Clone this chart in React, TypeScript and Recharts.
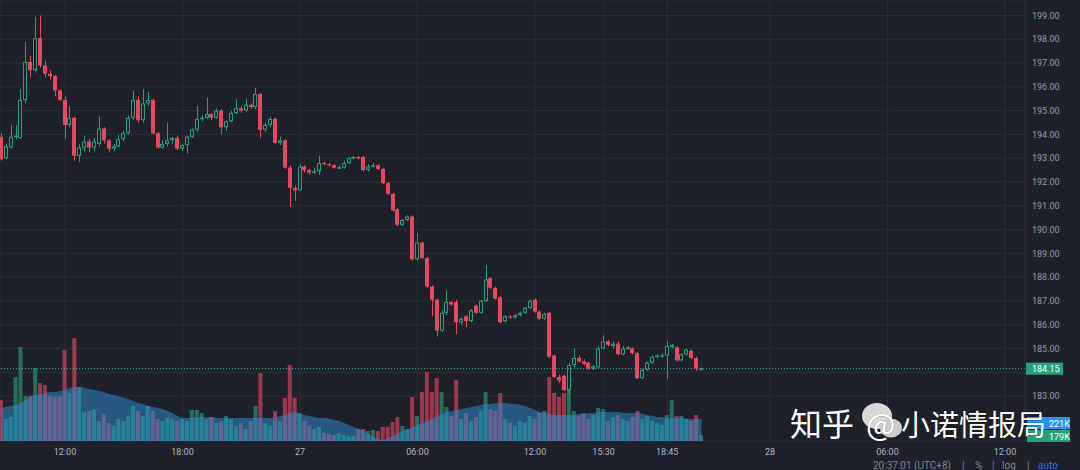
import React from 'react';
import { ComposedChart, Bar, Area, XAxis, YAxis, CartesianGrid, ReferenceLine } from 'recharts';

// time in hours since 00:00 of the 26th; 15-minute candles
const START_HOUR = 8.75;
const STEP_HOURS = 0.25;

// [open, high, low, close]
const CANDLES: [number, number, number, number][] = [
  [193.9, 194.05, 192.9, 192.95], [193.0, 193.6, 192.95, 193.5], [193.45, 194.4, 193.4, 193.9], [193.9, 194.4, 193.8, 193.95],
  [193.85, 195.9, 193.8, 195.45], [195.45, 197.9, 195.3, 197.05], [197.05, 197.3, 196.4, 196.7], [196.7, 198.95, 196.6, 198.05],
  [198.05, 199.0, 196.8, 196.9], [196.9, 197.1, 196.4, 196.55], [196.55, 196.7, 196.3, 196.45], [196.45, 196.5, 195.6, 195.85],
  [195.85, 195.9, 195.4, 195.45], [195.45, 195.6, 193.8, 194.4], [194.4, 195.2, 194.3, 194.7], [194.7, 194.75, 192.9, 193.1],
  [193.1, 193.6, 192.85, 193.45], [193.45, 193.95, 193.3, 193.7], [193.7, 193.8, 193.25, 193.45], [193.45, 193.85, 193.3, 193.7],
  [193.6, 194.75, 193.5, 194.25], [194.25, 194.3, 193.6, 193.75], [193.75, 193.8, 193.25, 193.4], [193.4, 193.6, 193.3, 193.5],
  [193.5, 194.0, 193.45, 193.8], [193.8, 194.15, 193.7, 194.05], [194.05, 194.8, 194.0, 194.7], [194.7, 195.85, 194.6, 195.45],
  [195.45, 195.6, 194.5, 194.6], [194.6, 195.9, 194.5, 195.3], [195.3, 195.8, 195.2, 195.45], [195.45, 195.5, 194.0, 194.05],
  [194.05, 194.1, 193.4, 193.45], [193.45, 193.75, 193.4, 193.6], [193.6, 194.5, 193.5, 193.75], [193.75, 193.9, 193.6, 193.85],
  [193.85, 193.95, 193.35, 193.4], [193.4, 193.6, 193.3, 193.55], [193.55, 193.95, 193.2, 193.9], [193.9, 194.25, 193.85, 194.2],
  [194.2, 195.2, 194.1, 194.65], [194.65, 194.8, 194.55, 194.7], [194.7, 195.55, 194.65, 194.85], [194.85, 194.9, 194.6, 194.7],
  [194.7, 195.1, 194.65, 195.0], [195.0, 195.05, 194.0, 194.3], [194.3, 194.6, 194.15, 194.55], [194.55, 195.0, 194.5, 194.9],
  [194.9, 195.5, 194.85, 195.1], [195.1, 195.2, 194.9, 195.0], [195.0, 195.5, 194.95, 195.25], [195.25, 195.3, 195.05, 195.15],
  [195.15, 195.95, 195.05, 195.7], [195.7, 195.75, 193.85, 194.2], [194.2, 194.5, 194.1, 194.4], [194.4, 194.75, 194.3, 194.65],
  [194.65, 194.7, 193.6, 193.65], [193.65, 193.9, 193.55, 193.75], [193.75, 193.8, 192.55, 192.6], [192.6, 192.7, 190.95, 191.75],
  [191.75, 191.85, 191.2, 191.65], [191.65, 192.75, 191.6, 192.65], [192.65, 192.7, 192.4, 192.5], [192.5, 192.55, 192.3, 192.4],
  [192.4, 192.6, 192.35, 192.45], [192.45, 193.1, 192.3, 192.8], [192.8, 192.85, 192.7, 192.75], [192.75, 192.8, 192.65, 192.7],
  [192.7, 192.75, 192.55, 192.6], [192.6, 192.7, 192.55, 192.62], [192.6, 192.9, 192.55, 192.8], [192.8, 193.05, 192.75, 193.0],
  [193.0, 193.1, 192.95, 193.05], [193.05, 193.1, 192.95, 193.0], [193.05, 193.1, 192.45, 192.5], [192.5, 192.75, 192.45, 192.65],
  [192.65, 192.8, 192.6, 192.7], [192.7, 192.75, 192.5, 192.55], [192.55, 192.6, 191.9, 191.95], [191.95, 192.0, 191.45, 191.5],
  [191.5, 191.55, 190.75, 190.8], [190.85, 190.9, 190.15, 190.2], [190.2, 190.45, 190.15, 190.4], [190.4, 190.6, 190.35, 190.55],
  [190.55, 190.6, 188.7, 188.75], [188.75, 189.85, 188.7, 189.45], [189.45, 189.5, 188.75, 188.8], [188.8, 188.85, 187.55, 187.6],
  [187.6, 187.65, 186.35, 187.05], [187.05, 187.1, 185.5, 185.75], [185.75, 186.6, 185.7, 186.5], [186.5, 187.45, 186.4, 186.95],
  [186.95, 187.0, 186.8, 186.85], [186.95, 187.05, 185.6, 186.1], [186.1, 186.3, 186.0, 186.25], [186.35, 186.4, 185.9, 186.15],
  [186.15, 186.65, 186.1, 186.6], [186.8, 186.85, 186.45, 186.5], [186.5, 187.05, 186.45, 187.0], [187.0, 188.5, 186.95, 187.9],
  [187.95, 188.0, 187.5, 187.55], [187.55, 187.6, 187.05, 187.1], [187.15, 187.2, 186.05, 186.1], [186.15, 186.4, 186.1, 186.35],
  [186.35, 186.4, 186.25, 186.3], [186.3, 186.45, 186.25, 186.4], [186.4, 186.55, 186.35, 186.5], [186.5, 186.75, 186.45, 186.7],
  [186.7, 187.05, 186.65, 187.0], [187.05, 187.1, 186.5, 186.55], [186.55, 186.6, 186.2, 186.25], [186.25, 186.5, 186.2, 186.45],
  [186.5, 186.55, 184.6, 184.65], [184.7, 184.75, 183.75, 183.8], [183.8, 183.9, 183.55, 183.65], [183.85, 183.9, 183.2, 183.25],
  [183.25, 184.4, 183.1, 184.3], [184.3, 185.0, 184.2, 184.6], [184.6, 184.7, 184.4, 184.45], [184.45, 184.55, 184.3, 184.35],
  [184.4, 184.45, 184.1, 184.15], [184.15, 184.3, 184.1, 184.25], [184.2, 185.1, 184.15, 185.0], [185.0, 185.55, 184.95, 185.3],
  [185.3, 185.35, 185.1, 185.15], [185.1, 185.3, 185.0, 185.2], [185.2, 185.3, 184.7, 184.75], [184.75, 185.1, 184.7, 185.0],
  [185.0, 185.1, 184.95, 185.05], [185.0, 185.05, 184.75, 184.8], [184.8, 184.85, 183.7, 183.75], [183.75, 184.15, 183.7, 184.1],
  [184.1, 184.45, 184.05, 184.4], [184.4, 184.7, 184.35, 184.65], [184.65, 184.75, 184.6, 184.7], [184.7, 184.8, 184.6, 184.72],
  [184.7, 185.3, 183.7, 185.1], [185.05, 185.2, 185.0, 185.15], [185.05, 185.1, 184.45, 184.5], [184.5, 184.8, 184.45, 184.75],
  [184.75, 185.0, 184.7, 184.95], [184.9, 184.95, 184.55, 184.6], [184.6, 184.65, 184.05, 184.15], [184.15, 184.2, 184.1, 184.15],
];

// volume per candle, thousands
const VOLUMES_K = [
  410, 220, 240, 640, 940, 450, 450, 730, 580, 560,
  450, 440, 450, 910, 480, 1030, 540, 290, 300, 320,
  200, 270, 180, 150, 220, 200, 250, 350, 300, 250,
  350, 300, 220, 200, 240, 220, 200, 220, 200, 310,
  310, 280, 220, 240, 180, 200, 250, 220, 150, 180,
  120, 200, 350, 680, 180, 150, 300, 200, 430, 760,
  430, 280, 200, 150, 120, 140, 80, 70, 60, 80,
  60, 50, 50, 120, 120, 100, 110, 100, 140, 140,
  190, 240, 150, 120, 440, 250, 490, 690, 490, 630,
  490, 340, 250, 610, 220, 280, 200, 240, 300, 490,
  320, 300, 480, 220, 180, 150, 200, 180, 250, 220,
  280, 300, 640, 480, 440, 480, 520, 300, 250, 280,
  220, 260, 330, 320, 200, 240, 260, 220, 200, 240,
  300, 220, 250, 200, 180, 160, 260, 410, 250, 250,
  220, 200, 260, 60,
];

// volume moving average, thousands (read from the blue area)
const VOLUME_MA_K = [
  330, 340, 350, 360, 380, 410, 450, 460, 470, 480,
  490, 490, 500, 510, 530, 540, 540, 530, 520, 510,
  500, 490, 470, 460, 450, 430, 420, 400, 380, 370,
  350, 340, 330, 320, 300, 280, 250, 230, 230, 230,
  240, 240, 240, 240, 230, 230, 230, 230, 230, 230,
  230, 230, 230, 230, 230, 230, 240, 250, 260, 280,
  290, 270, 260, 250, 240, 230, 230, 220, 210, 200,
  180, 160, 140, 120, 100, 70, 40, 20, 10, 30,
  50, 80, 100, 120, 140, 160, 180, 200, 220, 250,
  270, 290, 300, 310, 320, 330, 340, 350, 360, 370,
  370, 380, 380, 380, 370, 370, 360, 350, 330, 310,
  290, 280, 270, 260, 260, 260, 260, 260, 270, 270,
  280, 280, 290, 290, 290, 290, 290, 280, 280, 280,
  280, 270, 260, 250, 240, 240, 230, 230, 230, 230,
  220, 220, 220, 220,
];

const TIME_TICKS = [12, 18, 24, 30, 36, 39.5, 42.75, 48, 54, 60];
const TIME_LABELS = ['12:00', '18:00', '27', '06:00', '12:00', '15:30', '18:45', '28', '06:00', '12:00'];
const PRICE_TICKS = [183, 184, 185, 186, 187, 188, 189, 190, 191, 192, 193, 194, 195, 196, 197, 198, 199];
const HIDDEN_PRICE_LABELS = [184]; // covered by the last-price tag
const LAST_PRICE = 184.15;
const VOLUME_TAGS = ['221K', '179K'];

const T_DOMAIN: [number, number] = [8.681, 61.02];
const P_DOMAIN: [number, number] = [181.108, 199.652];
const V_DOMAIN: [number, number] = [0, 4410];

const BG = '#1f212a';
const GRID = '#2b2e39';
const UP = '#26a17b';
const DOWN = '#e8475f';

const DATA = CANDLES.map((c, i) => ({
  t: START_HOUR + i * STEP_HOURS,
  open: c[0],
  high: c[1],
  low: c[2],
  close: c[3],
  range: [c[2], c[1]],
  volume: VOLUMES_K[i],
  volMa: VOLUME_MA_K[i],
}));

function CandleShape(props: any) {
  const { x, y, width, height, payload } = props;
  if (!payload || x == null) return null;
  const { open, high, low, close } = payload;
  const top = Math.min(y, y + height);
  const span = Math.abs(height);
  const ppu = span / (high - low);
  const cx = Math.round(x + width / 2) + 0.5;
  const bodyTop = top + (high - Math.max(open, close)) * ppu;
  const bodyBot = top + (high - Math.min(open, close)) * ppu;
  const bh = Math.max(1, bodyBot - bodyTop);
  const up = close >= open;
  const color = up ? UP : DOWN;
  const bx = Math.round(x);
  return (
    <g>
      <line x1={cx} x2={cx} y1={top} y2={top + span} stroke={color} strokeWidth={1} />
      {up ? (
        <rect x={bx + 0.5} y={bodyTop + 0.5} width={width - 1} height={Math.max(0.5, bh - 1)} fill={BG} stroke={color} strokeWidth={1} />
      ) : (
        <rect x={bx} y={bodyTop} width={width} height={bh} fill={color} />
      )}
    </g>
  );
}

function VolumeShape(props: any) {
  const { x, y, width, height, payload } = props;
  if (!payload || x == null) return null;
  const up = payload.close >= payload.open;
  return <rect x={x} y={y} width={width} height={height} fill={up ? UP : DOWN} fillOpacity={0.62} />;
}

function PriceTag(props: any) {
  const vb = props.viewBox || {};
  const x = vb.x + vb.width + 1;
  const y = vb.y;
  return (
    <g>
      <rect x={x} y={y - 6} width={37} height={12} fill={UP} />
      <text x={x + 6} y={y + 3.5} fill="#ffffff" fontSize={9} fontFamily="Roboto, sans-serif">
        {LAST_PRICE.toFixed(2)}
      </text>
    </g>
  );
}

const PLOT_MARGIN = { top: 0, right: 55, bottom: 29, left: 0 };

export default function App() {
  const axisFont = { fontSize: 9, fontFamily: 'Roboto, sans-serif' };
  return (
    <div style={{ position: 'absolute', left: 0, top: 0, width: 1080, height: 470, background: BG, overflow: 'hidden' }}>
      {/* layer 1: grid and volume bars */}
      <div style={{ position: 'absolute', left: 0, top: 0 }}>
        <ComposedChart width={1080} height={470} data={DATA} margin={PLOT_MARGIN}>
          <CartesianGrid xAxisId="main" yAxisId="price" stroke={GRID} strokeWidth={1} />
          <XAxis xAxisId="main" dataKey="t" type="number" domain={T_DOMAIN} allowDataOverflow ticks={TIME_TICKS} interval={0} hide />
          <YAxis yAxisId="price" domain={P_DOMAIN} allowDataOverflow ticks={PRICE_TICKS} interval={0} hide />
          <YAxis yAxisId="vol" domain={V_DOMAIN} allowDataOverflow hide />
          <Bar xAxisId="main" yAxisId="vol" dataKey="volume" barSize={4} shape={<VolumeShape />} isAnimationActive={false} />
        </ComposedChart>
      </div>
      {/* layer 2: volume average, candles, axes */}
      <div style={{ position: 'absolute', left: 0, top: 0 }}>
        <ComposedChart width={1080} height={470} data={DATA} margin={{ top: 0, right: 0, bottom: 0, left: 0 }}>
          <XAxis
            xAxisId="main"
            dataKey="t"
            type="number"
            domain={T_DOMAIN}
            allowDataOverflow
            ticks={TIME_TICKS}
            interval={0}
            tickFormatter={(v: number) => TIME_LABELS[TIME_TICKS.indexOf(v)] ?? ''}
            height={29}
            axisLine={false}
            tickLine={false}
            tickSize={0}
            tickMargin={8}
            tick={{ ...axisFont, fill: '#b3b6be' }}
          />
          <YAxis
            yAxisId="price"
            orientation="right"
            domain={P_DOMAIN}
            allowDataOverflow
            ticks={PRICE_TICKS}
            interval={0}
            tickFormatter={(v: number) => (HIDDEN_PRICE_LABELS.includes(v) ? '' : v.toFixed(2))}
            width={55}
            axisLine={{ stroke: GRID }}
            tickLine={false}
            tickSize={0}
            tickMargin={7}
            tick={{ ...axisFont, fill: '#969aa3', textAnchor: 'start' }}
          />
          <YAxis yAxisId="vol" domain={V_DOMAIN} allowDataOverflow hide />
          <Area
            xAxisId="main"
            yAxisId="vol"
            dataKey="volMa"
            type="monotone"
            stroke="none"
            fill="#2d8fd5"
            fillOpacity={0.5}
            isAnimationActive={false}
            dot={false}
            activeDot={false}
          />
          <Bar xAxisId="main" yAxisId="price" dataKey="range" barSize={4} shape={<CandleShape />} isAnimationActive={false} />
          <ReferenceLine
            xAxisId="main"
            yAxisId="price"
            y={LAST_PRICE}
            stroke="#45b592"
            strokeDasharray="1 2"
            label={<PriceTag />}
          />
        </ComposedChart>
      </div>
      <svg style={{ position: 'absolute', left: 0, top: 0, pointerEvents: 'none' }} width={1080} height={470}>
        <rect x={1027} y={417} width={43} height={12} fill="#2196f3" />
        <text x={1049} y={426.5} fill="#ffffff" fontSize={9} fontFamily="Roboto, sans-serif">{VOLUME_TAGS[0]}</text>
        <rect x={1027} y={430} width={43} height={12} fill={UP} />
        <text x={1049} y={439.5} fill="#ffffff" fontSize={9} fontFamily="Roboto, sans-serif">{VOLUME_TAGS[1]}</text>

        <g fontFamily="Roboto, sans-serif" fontSize={10} fill="#80838c">
          <text x={873} y={469}>20:37:01 (UTC+8)</text>
          <text x={962} y={469}>|</text>
          <text x={975} y={469}>%</text>
          <text x={992} y={469}>|</text>
          <text x={1002} y={469}>log</text>
          <text x={1027} y={469}>|</text>
          <text x={1038} y={469} fill="#2f6bf0">auto</text>
        </g>

        <ellipse cx={877} cy={416} rx={15} ry={13} fill="#d8d8d8" />
        <ellipse cx={891} cy={428} rx={11} ry={9.5} fill="#cdcdcd" />
        <g fontFamily="'Noto Sans CJK SC', sans-serif" fill="#ffffff" stroke="rgba(0,0,0,0.25)" strokeWidth={1} style={{ paintOrder: 'stroke' }}>
          <text x={790} y={436} fontSize={32}>知乎</text>
          <text x={866} y={436} fontSize={31}>@</text>
          <text x={901} y={436} fontSize={29}>小诺情报局</text>
        </g>
      </svg>
    </div>
  );
}
